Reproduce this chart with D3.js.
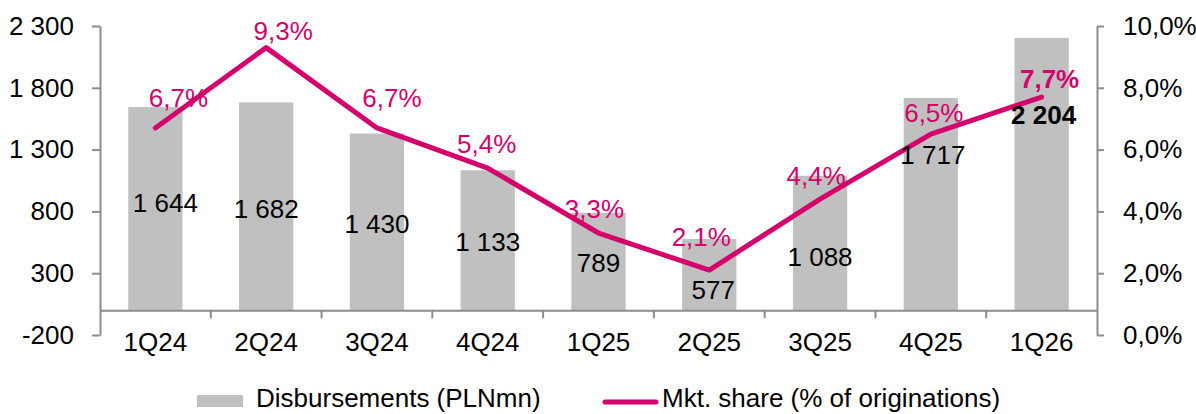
<!DOCTYPE html>
<html>
<head>
<meta charset="utf-8">
<script src="https://cdn.jsdelivr.net/npm/d3@7"></script>
<style>
  body { margin: 0; background: #fff; }
  svg { display: block; font-family: Arial, "Liberation Sans", sans-serif; }
</style>
</head>
<body>
<div id="chart"></div>
<script>
// chart data
const categories = ["1Q24", "2Q24", "3Q24", "4Q24", "1Q25", "2Q25", "3Q25", "4Q25", "1Q26"];
const disbursements = [1644, 1682, 1430, 1133, 789, 577, 1088, 1717, 2204];
const mktShare = [0.067, 0.093, 0.067, 0.054, 0.033, 0.021, 0.044, 0.065, 0.077];
const leftTicks = [-200, 300, 800, 1300, 1800, 2300];
const rightTicks = [0, 0.02, 0.04, 0.06, 0.08, 0.1];
const legendNames = ["Disbursements (PLNmn)", "Mkt. share (% of originations)"];

// hand placed label nudges [dx, dy], like in the source chart
const shareLabelShift = [[23, -21], [17, -8], [15, -21], [-1, -15], [-4, -15], [-8, -24], [-4, -14], [3, -12], [8, -9]];
const barLabelShift = [[10, -6], [0, 3], [0, 2], [0, 2], [0, 1], [4, 15], [0, 14], [2, -49], [2, -59]];

const W = 1196, H = 414;
const plot = { left: 100, right: 1097, top: 26, bottom: 335 };
const MAGENTA = "#d4006c";
const BAR = "#c0c0c0";
const AXIS = "#8c8c8c";
const FS = 26;

const pl = d3.formatLocale({ decimal: ",", thousands: " ", grouping: [3], currency: ["", ""], minus: "-" });
const fmtNum = pl.format(",d");
const fmtPct = pl.format(".1%");

const svg = d3.select("#chart").append("svg").attr("width", W).attr("height", H);

const x = d3.scaleBand().domain(categories).range([plot.left, plot.right]).paddingInner(0).paddingOuter(0);
const yL = d3.scaleLinear().domain([-200, 2300]).range([plot.bottom, plot.top]);
const yR = d3.scaleLinear().domain([0, 0.1]).range([plot.bottom, plot.top]);

const barW = x.bandwidth() * 0.49;

// bars
svg.append("g")
  .selectAll("rect")
  .data(disbursements)
  .join("rect")
  .attr("x", (d, i) => x(categories[i]) + (x.bandwidth() - barW) / 2)
  .attr("y", (d) => yL(d))
  .attr("width", barW)
  .attr("height", (d) => yL(0) - yL(d))
  .attr("fill", BAR);

// left axis
const axL = svg.append("g")
  .attr("transform", "translate(" + plot.left + ",0)")
  .call(d3.axisLeft(yL).tickValues(leftTicks).tickFormat(fmtNum).tickSize(8).tickSizeOuter(0).tickPadding(18));

// right axis
const axR = svg.append("g")
  .attr("transform", "translate(" + plot.right + ",0)")
  .call(d3.axisRight(yR).tickValues(rightTicks).tickFormat(fmtPct).tickSize(7).tickSizeOuter(0).tickPadding(19));

// x axis at zero of the bar scale
const axX = svg.append("g")
  .attr("transform", "translate(0," + yL(0) + ")")
  .call(d3.axisBottom(x).tickSize(0).tickSizeOuter(0).tickPadding(22));

// category boundary ticks
axX.selectAll(".sep")
  .data(categories.slice(1))
  .join("line")
  .attr("class", "sep")
  .attr("x1", (d) => x(d))
  .attr("x2", (d) => x(d))
  .attr("y1", 0)
  .attr("y2", 8);

[axL, axR, axX].forEach((g) => {
  g.selectAll("path, line").attr("stroke", AXIS).attr("stroke-width", 2);
  g.selectAll("text").attr("font-size", FS).attr("font-family", "Arial, 'Liberation Sans', sans-serif").attr("fill", "#000");
});
axX.selectAll(".sep").attr("stroke", AXIS).attr("stroke-width", 2);

// market share line
const line = d3.line()
  .x((d, i) => x(categories[i]) + x.bandwidth() / 2)
  .y((d) => yR(d));

svg.append("path")
  .datum(mktShare)
  .attr("fill", "none")
  .attr("stroke", MAGENTA)
  .attr("stroke-width", 5)
  .attr("stroke-linejoin", "round")
  .attr("stroke-linecap", "round")
  .attr("d", line);

// bar value labels
svg.append("g")
  .selectAll("text")
  .data(disbursements)
  .join("text")
  .attr("x", (d, i) => x(categories[i]) + x.bandwidth() / 2 + barLabelShift[i][0])
  .attr("y", (d, i) => yL(d / 2) + 9 + barLabelShift[i][1])
  .attr("text-anchor", "middle")
  .attr("font-size", FS)
  .attr("font-weight", (d, i) => (i === disbursements.length - 1 ? "bold" : "normal"))
  .attr("fill", "#000")
  .text((d) => fmtNum(d));

// share labels
svg.append("g")
  .selectAll("text")
  .data(mktShare)
  .join("text")
  .attr("x", (d, i) => x(categories[i]) + x.bandwidth() / 2 + shareLabelShift[i][0])
  .attr("y", (d, i) => yR(d) + shareLabelShift[i][1])
  .attr("text-anchor", "middle")
  .attr("font-size", FS)
  .attr("font-weight", (d, i) => (i === mktShare.length - 1 ? "bold" : "normal"))
  .attr("fill", MAGENTA)
  .text((d) => fmtPct(d));

// legend
const leg = svg.append("g");
leg.append("rect").attr("x", 197).attr("y", 395).attr("width", 46).attr("height", 12).attr("fill", BAR);
leg.append("text").attr("x", 256).attr("y", 407).attr("font-size", FS).text(legendNames[0]);
leg.append("line").attr("x1", 605).attr("x2", 656).attr("y1", 402).attr("y2", 402)
  .attr("stroke", MAGENTA).attr("stroke-width", 5).attr("stroke-linecap", "round");
leg.append("text").attr("x", 662).attr("y", 407).attr("font-size", FS).text(legendNames[1]);
</script>
</body>
</html>
